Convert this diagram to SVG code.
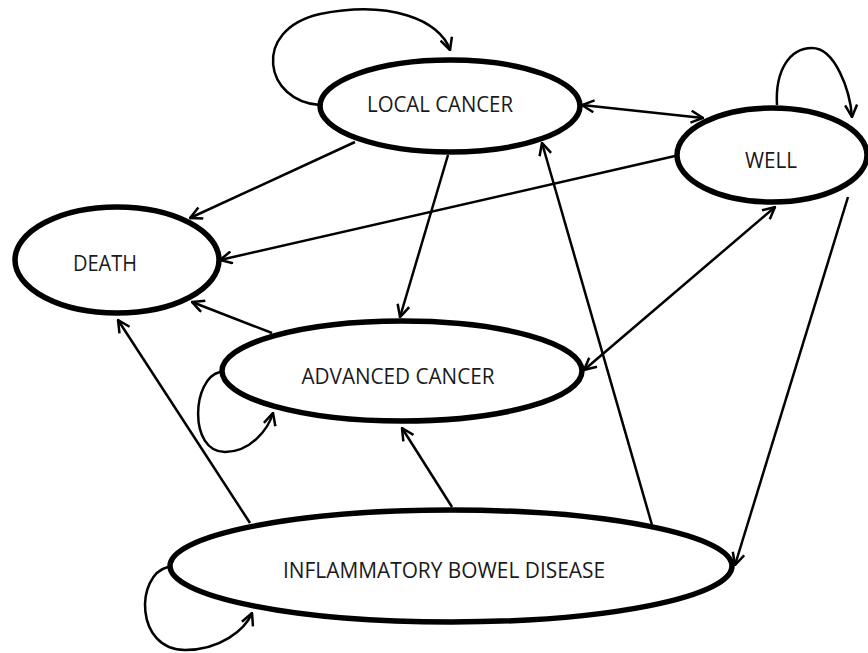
<svg xmlns="http://www.w3.org/2000/svg" width="868" height="653" viewBox="0 0 868 653">
<style>
.node{fill:#fff;stroke:#000;stroke-width:5.5}
.lbl{font-family:"Open Sans","Liberation Sans",sans-serif;font-size:21px;fill:#1a1a1a;text-anchor:middle}
.edge{fill:none;stroke:#000;stroke-width:2.5}
</style>
<defs>
<marker id="arr" viewBox="0 0 14 14" refX="13" refY="7" markerWidth="14" markerHeight="14" markerUnits="userSpaceOnUse" orient="auto-start-reverse">
<path d="M1,1 L13,7 L1,13" fill="none" stroke="#000" stroke-width="2.5"/>
</marker>
</defs>
<g id="nodes">
<g id="local"><ellipse class="node" cx="450" cy="106" rx="130" ry="46"/><text class="lbl" x="440" y="112" textLength="146" lengthAdjust="spacingAndGlyphs">LOCAL CANCER</text></g>
<g id="well"><ellipse class="node" cx="772" cy="155" rx="95" ry="47"/><text class="lbl" x="771" y="168" textLength="52" lengthAdjust="spacingAndGlyphs">WELL</text></g>
<g id="death"><ellipse class="node" cx="117" cy="260" rx="102" ry="53"/><text class="lbl" x="105" y="271" textLength="64" lengthAdjust="spacingAndGlyphs">DEATH</text></g>
<g id="advanced"><ellipse class="node" cx="402" cy="371" rx="180" ry="50"/><text class="lbl" x="398" y="384" textLength="193" lengthAdjust="spacingAndGlyphs">ADVANCED CANCER</text></g>
<g id="ibd"><ellipse class="node" cx="451" cy="566" rx="281" ry="56"/><text class="lbl" x="444" y="578" textLength="322" lengthAdjust="spacingAndGlyphs">INFLAMMATORY BOWEL DISEASE</text></g>
</g>
<g id="connectors">
<path class="edge" marker-end="url(#arr)" d="M320,105 C265,102 250,30 320,14 C390,0 440,20 450,50"/>
<path class="edge" marker-end="url(#arr)" d="M777,105 C775,70 790,48 812,48 C835,48 850,90 852,117"/>
<path class="edge" marker-start="url(#arr)" marker-end="url(#arr)" d="M582,105 L703,118"/>
<path class="edge" marker-end="url(#arr)" d="M675,156 L220,260"/>
<path class="edge" marker-end="url(#arr)" d="M355,142 L190,218"/>
<path class="edge" marker-end="url(#arr)" d="M272,333 L192,302"/>
<path class="edge" marker-end="url(#arr)" d="M250,523 L118,320"/>
<path class="edge" marker-end="url(#arr)" d="M448,155 L400,317"/>
<path class="edge" marker-start="url(#arr)" marker-end="url(#arr)" d="M584,370 L775,207"/>
<path class="edge" marker-end="url(#arr)" d="M220,372 C192,378 188,452 225,452 C250,452 268,430 273,413"/>
<path class="edge" marker-end="url(#arr)" d="M452,507 L402,428"/>
<path class="edge" marker-end="url(#arr)" d="M652,525 L542,143"/>
<path class="edge" marker-end="url(#arr)" d="M848,197 L735,565"/>
<path class="edge" marker-end="url(#arr)" d="M168,567 C135,575 135,650 185,650 C220,650 245,630 252,613"/>
</g>
</svg>
